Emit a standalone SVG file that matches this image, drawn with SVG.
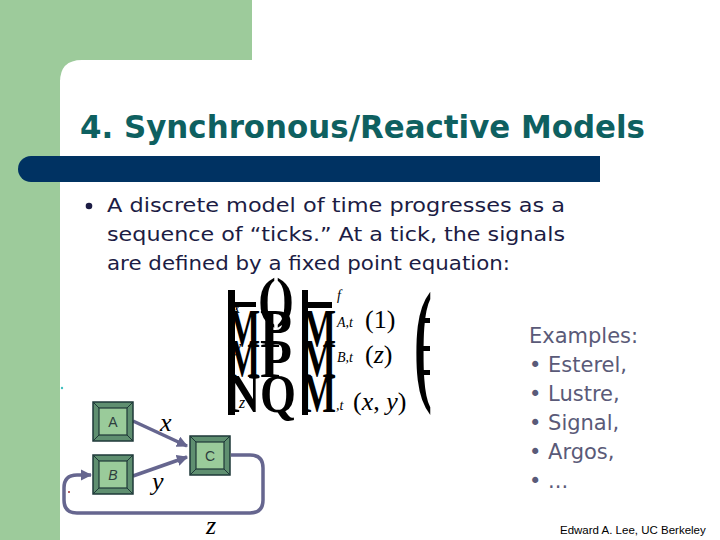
<svg xmlns="http://www.w3.org/2000/svg" xmlns:xlink="http://www.w3.org/1999/xlink" width="720" height="540" viewBox="0 0 720 540">
<style>
.title{font-family:"DejaVu Sans","Noto Sans",sans-serif;font-weight:bold;font-size:32px;fill:#0E6060}
.body{font-family:"DejaVu Sans","Noto Sans",sans-serif;font-size:19px;fill:#1C1C44}
.ex{font-family:"DejaVu Sans","Noto Sans",sans-serif;font-size:21px;fill:#5A5A78}
.lbl{font-family:"Liberation Sans",Arial,sans-serif;font-size:14px;fill:#2E3E3E}
.var{font-family:"Liberation Serif","Times New Roman",serif;font-style:italic;font-size:26px;fill:#000}
.eq{font-family:"Liberation Serif","Times New Roman",serif;font-size:26px;fill:#000}
.eqs{font-family:"Liberation Serif","Times New Roman",serif;font-style:italic;font-size:14px;fill:#000}
.big{font-family:"Liberation Serif","Times New Roman",serif;font-weight:bold;font-size:54px;fill:#000}
.conn{fill:none;stroke:#66668F;stroke-width:3.5}
</style>
<defs>
<marker id="ah" viewBox="0 0 10 10" refX="9" refY="5" markerWidth="3.2" markerHeight="3.2" orient="auto" markerUnits="strokeWidth">
<path d="M0,0 L10,5 L0,10 z" fill="#66668F"/>
</marker>
<g id="bevel">
<rect x="0" y="0" width="40" height="39" fill="#5F8F70" stroke="#1E3838" stroke-width="1.5"/>
<rect x="6" y="6" width="28" height="27" fill="#9ACB9A" stroke="#1E3838" stroke-width="1.2"/>
<path d="M0,0 L6,6 M40,0 L34,6 M0,39 L6,33 M40,39 L34,33" stroke="#1E3838" stroke-width="1"/>
</g>
</defs>
<rect width="720" height="540" fill="#FFFFFF"/>
<g id="background">
<rect x="0" y="0" width="252" height="80" fill="#9DCB9B"/>
<rect x="0" y="0" width="60" height="540" fill="#9DCB9B"/>
<path d="M60,540 V82 Q60,60 82,60 H252 V80 H60 Z" fill="#FFFFFF"/>
<path d="M31,156 H600 V182 H31 A13,13 0 0 1 31,156 Z" fill="#003262"/>
</g>
<text class="title" x="80" y="138" textLength="565" lengthAdjust="spacingAndGlyphs">4. Synchronous/Reactive Models</text>
<g id="bullet-text">
<circle cx="89" cy="206" r="3.3" fill="#1C1C44"/>
<text class="body" x="107" y="212" textLength="458" lengthAdjust="spacingAndGlyphs">A discrete model of time progresses as a</text>
<text class="body" x="107" y="241" textLength="458" lengthAdjust="spacingAndGlyphs">sequence of “ticks.” At a tick, the signals</text>
<text class="body" x="107" y="270" textLength="403" lengthAdjust="spacingAndGlyphs">are defined by a fixed point equation:</text>
</g>
<g id="equation">
<rect x="228" y="290" width="7" height="125" fill="#000"/>
<rect x="302" y="290" width="6" height="125" fill="#000"/>
<text class="big" x="258" y="316" textLength="36" lengthAdjust="spacingAndGlyphs">()</text>
<text class="big" x="228" y="347" textLength="32" lengthAdjust="spacingAndGlyphs">M</text>
<text class="big" x="260" y="347" textLength="32" lengthAdjust="spacingAndGlyphs">P</text>
<text class="big" x="302" y="347" textLength="34" lengthAdjust="spacingAndGlyphs">M</text>
<text class="big" x="228" y="377" textLength="32" lengthAdjust="spacingAndGlyphs">M</text>
<text class="big" x="260" y="377" textLength="32" lengthAdjust="spacingAndGlyphs">P</text>
<text class="big" x="302" y="377" textLength="34" lengthAdjust="spacingAndGlyphs">M</text>
<text class="big" x="228" y="412" textLength="32" lengthAdjust="spacingAndGlyphs">N</text>
<text class="big" x="260" y="412" textLength="36" lengthAdjust="spacingAndGlyphs">Q</text>
<text class="big" x="302" y="412" textLength="34" lengthAdjust="spacingAndGlyphs">M</text>
<rect x="302" y="302" width="30" height="6" fill="#000"/>
<rect x="228" y="302" width="28" height="5" fill="#000"/>
<text class="eqs" x="233" y="313" style="font-size:16px">x</text>
<text class="eqs" x="234" y="352" style="font-size:16px">y</text>
<text class="eqs" x="239" y="408" style="font-size:16px">z</text>
<text class="eqs" x="337" y="300">f</text>
<text class="eqs" x="337" y="327">A,t</text>
<text class="eq" x="365" y="328">(1)</text>
<text class="eqs" x="337" y="362">B,t</text>
<text class="eq" x="365" y="363"><tspan>(</tspan><tspan font-style="italic">z</tspan><tspan>)</tspan></text>
<text class="eqs" x="336" y="410">,t</text>
<text class="eq" x="353" y="410"><tspan>(</tspan><tspan font-style="italic">x</tspan><tspan>, </tspan><tspan font-style="italic">y</tspan><tspan>)</tspan></text>
<text class="big" x="414" y="386" style="font-size:135px" textLength="18" lengthAdjust="spacingAndGlyphs">(</text>
<rect x="421" y="318" width="9" height="5" fill="#000"/>
<rect x="421" y="346" width="9" height="5" fill="#000"/>
<rect x="421" y="370" width="9" height="5" fill="#000"/>
</g>
<g id="connectors">
<path class="conn" d="M133,421 L187,446" marker-end="url(#ah)"/>
<path class="conn" d="M133,476 L187,457" marker-end="url(#ah)"/>
<path class="conn" d="M231,455 H250 Q263,455 263,468 V500 Q263,513 250,513 H77 Q64,513 64,500 V488 Q64,475 77,475 H91" marker-end="url(#ah)"/>
<text class="var" x="160" y="431">x</text>
<text class="var" x="152" y="490">y</text>
<text class="var" x="206" y="534">z</text>
</g>
<g id="nodeA" transform="translate(93,402)">
<use xlink:href="#bevel"/>
<text class="lbl" x="20" y="25" text-anchor="middle">A</text>
</g>
<g id="nodeB" transform="translate(93,455)">
<use xlink:href="#bevel"/>
<text class="lbl" x="20" y="25" text-anchor="middle" font-style="italic">B</text>
</g>
<g id="nodeC" transform="translate(190,436)">
<use xlink:href="#bevel"/>
<text class="lbl" x="20" y="25" text-anchor="middle">C</text>
</g>
<circle cx="62" cy="388" r="1.2" fill="#40C0C0"/>
<circle cx="69" cy="492" r="1" fill="#A03030"/>
<g id="examples">
<text class="ex" x="529" y="343">Examples:</text>
<text class="ex" x="529" y="372">• Esterel,</text>
<text class="ex" x="529" y="401">• Lustre,</text>
<text class="ex" x="529" y="430">• Signal,</text>
<text class="ex" x="529" y="459">• Argos,</text>
<text class="ex" x="529" y="488">• ...</text>
</g>
<text x="560" y="534" font-family="Liberation Sans, Arial, sans-serif" font-size="11.5" fill="#000">Edward A. Lee, UC Berkeley</text>
</svg>
